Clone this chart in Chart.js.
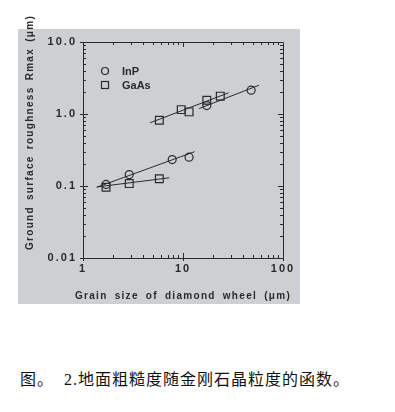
<!DOCTYPE html>
<html>
<head>
<meta charset="utf-8">
<script src="https://cdn.jsdelivr.net/npm/chart.js@4/dist/chart.umd.min.js"></script>
<style>
    body { margin: 0; background: #fff; }
    #box { position: absolute; left: 18px; top: 29px; width: 282px; height: 275px; background: #cdcfd3; }
    #chart { display: block; }
    .axis-title { position: absolute; font: bold 10px "Liberation Sans", Arial, sans-serif; color: #2a2a2a;
        letter-spacing: 1.3px; word-spacing: 2px; white-space: nowrap; line-height: 12px; }
    #xTitle { left: 53px; width: 260px; top: 290px; text-align: center; letter-spacing: 1.3px; word-spacing: 3px; }
    #yTitle { left: -70px; width: 200px; top: 144px; text-align: center; transform: rotate(-90deg);
        transform-origin: 100px 6px; }
    #caption { position: absolute; left: 20px; top: 370px; font: 16px "Liberation Serif", "Noto Sans CJK SC", serif;
        line-height: 20px; letter-spacing: 1px; color: #111; white-space: pre; }
</style>
</head>
<body>
<div id="box"><canvas id="chart" width="282" height="275"></canvas></div>
<div id="xTitle" class="axis-title">Grain size of diamond wheel (&mu;m)</div>
<div id="yTitle" class="axis-title">Ground surface roughness Rmax (&mu;m)</div>
<div id="caption">图。  2.地面粗糙度随金刚石晶粒度的函数。</div>
<script>
// measured points (grain size in um, Rmax in um)
var inpGrain = [1.7, 2.9, 7.8, 11.5, 17.3, 48];
var inpRmax = [0.105, 0.144, 0.233, 0.251, 1.31, 2.14];
var gaasGrain = [1.7, 2.9, 5.8, 5.8, 9.6, 11.5, 17.3, 23.6];
var gaasRmax = [0.096, 0.108, 0.126, 0.82, 1.15, 1.07, 1.55, 1.77];

// fitted lines, end points
var inpLowFitX = [1.37, 13.1], inpLowFitY = [0.096, 0.30];
var gaasLowFitX = [1.38, 7.3], gaasLowFitY = [0.097, 0.130];
var gaasHighFitX = [4.68, 28.6], gaasHighFitY = [0.755, 1.97];
var inpHighFitX = [14.5, 57.5], inpHighFitY = [1.19, 2.51];

var xTicks = [1, 10, 100];
var yTicks = [0.01, 0.1, 1, 10];

var ink = '#2a2a2a';

function pts(xs, ys) {
    return xs.map(function (x, i) { return { x: x, y: ys[i] }; });
}

function fitLine(xs, ys) {
    return {
        data: pts(xs, ys),
        showLine: true,
        pointRadius: 0,
        borderColor: ink,
        borderWidth: 1
    };
}

// wide letter spacing of the tick labels
var spacingPlugin = {
    id: 'spacing',
    beforeLayout: function (chart) { chart.ctx.letterSpacing = '2px'; },
    beforeDraw: function (chart) { chart.ctx.letterSpacing = '2px'; }
};

// frame, inner minor ticks and the legend
var framePlugin = {
    id: 'frame',
    afterDraw: function (chart) {
        var ctx = chart.ctx;
        var a = chart.chartArea;
        var xs = chart.scales.x, ys = chart.scales.y;
        ctx.save();
        ctx.strokeStyle = ink;
        ctx.lineWidth = 1;
        ctx.beginPath();
        ctx.moveTo(a.left, a.top + 0.5);
        ctx.lineTo(a.right + 0.5, a.top + 0.5);
        ctx.lineTo(a.right + 0.5, a.bottom);
        ctx.stroke();

        ctx.beginPath();
        [1, 10].forEach(function (d) {
            for (var m = 1; m <= 9; m++) {
                var px = Math.round(xs.getPixelForValue(d * m)) + 0.5;
                var len = m === 1 ? 5 : 3;
                ctx.moveTo(px, a.bottom); ctx.lineTo(px, a.bottom - len);
                ctx.moveTo(px, a.top); ctx.lineTo(px, a.top + len);
            }
        });
        [0.01, 0.1, 1].forEach(function (d) {
            for (var m = 1; m <= 9; m++) {
                var py = Math.round(ys.getPixelForValue(d * m)) + 0.5;
                var len = m === 1 ? 5 : 3;
                ctx.moveTo(a.left, py); ctx.lineTo(a.left + len, py);
                ctx.moveTo(a.right, py); ctx.lineTo(a.right - len, py);
            }
        });
        ctx.stroke();

        // legend
        ctx.letterSpacing = '0px';
        ctx.lineWidth = 1.2;
        ctx.beginPath();
        ctx.arc(87, 42, 3.5, 0, Math.PI * 2);
        ctx.stroke();
        ctx.strokeRect(83.5, 52.5, 7, 7);
        ctx.fillStyle = ink;
        ctx.font = 'bold 11px "Liberation Sans", Arial, sans-serif';
        ctx.textBaseline = 'middle';
        ctx.fillText('InP', 104, 43);
        ctx.fillText('GaAs', 104, 57);
        ctx.restore();
    }
};

var tickFont = { family: '"Liberation Sans", Arial, sans-serif', size: 11, weight: 'bold' };

var ctx = document.getElementById('chart').getContext('2d');
var chart = new Chart(ctx, {
    type: 'scatter',
    data: {
        datasets: [
            {
                label: 'InP',
                data: pts(inpGrain, inpRmax),
                pointStyle: 'circle',
                pointRadius: 4,
                backgroundColor: 'rgba(0,0,0,0)',
                borderColor: ink,
                borderWidth: 1.2
            },
            {
                label: 'GaAs',
                data: pts(gaasGrain, gaasRmax),
                pointStyle: 'rect',
                pointRadius: 5.5,
                backgroundColor: 'rgba(0,0,0,0)',
                borderColor: ink,
                borderWidth: 1.2
            },
            fitLine(inpLowFitX, inpLowFitY),
            fitLine(gaasLowFitX, gaasLowFitY),
            fitLine(gaasHighFitX, gaasHighFitY),
            fitLine(inpHighFitX, inpHighFitY)
        ]
    },
    options: {
        responsive: false,
        animation: false,
        layout: { padding: { left: 0, right: 17, top: 13, bottom: 0 } },
        plugins: {
            legend: { display: false },
            tooltip: { enabled: false }
        },
        scales: {
            x: {
                type: 'logarithmic',
                min: 1,
                max: 100,
                afterBuildTicks: function (scale) {
                    scale.ticks = xTicks.map(function (v) { return { value: v }; });
                },
                afterFit: function (scale) { scale.height = 46; },
                ticks: {
                    color: ink,
                    font: tickFont,
                    padding: 1,
                    maxRotation: 0,
                    callback: function (v) { return String(v); }
                },
                grid: { drawOnChartArea: false, color: ink, tickLength: 3 },
                border: { color: ink, width: 1 }
            },
            y: {
                type: 'logarithmic',
                min: 0.01,
                max: 10,
                afterBuildTicks: function (scale) {
                    scale.ticks = yTicks.map(function (v) { return { value: v }; });
                },
                afterFit: function (scale) { scale.width = 65; },
                ticks: {
                    color: ink,
                    font: tickFont,
                    padding: 3,
                    callback: function (v) { return v >= 1 ? v.toFixed(1) : String(v); }
                },
                grid: { drawOnChartArea: false, color: ink, tickLength: 3 },
                border: { color: ink, width: 1 }
            }
        }
    },
    plugins: [spacingPlugin, framePlugin]
});
</script>
</body>
</html>
